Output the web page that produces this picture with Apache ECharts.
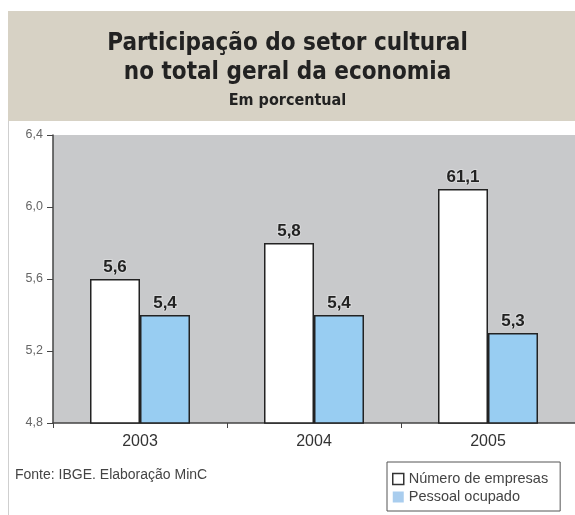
<!DOCTYPE html>
<html>
<head>
<meta charset="utf-8">
<script src="https://cdn.jsdelivr.net/npm/echarts@6/dist/echarts.min.js"></script>
<style>
  html, body { margin: 0; padding: 0; background: #ffffff; }
  #chart { width: 575px; height: 515px; }
</style>
</head>
<body>
<div id="chart"></div>
<script>
// Participação do setor cultural — dados em porcentual
const anos = ['2003', '2004', '2005'];
const numeroEmpresas = [5.6, 5.8, 6.1];
const pessoalOcupado = [5.4, 5.4, 5.3];
// Rótulos impressos sobre as barras
const rotulosEmpresas = ['5,6', '5,8', '61,1'];
const rotulosPessoal = ['5,4', '5,4', '5,3'];

const chart = echarts.init(document.getElementById('chart'), null, { renderer: 'canvas' });

const sans = 'Liberation Sans, Arial, sans-serif';
const tituloFonte = 'DejaVu Sans Condensed, DejaVu Sans, sans-serif';

const labelStyle = {
  show: true,
  position: 'top',
  distance: 3,
  fontFamily: sans,
  fontWeight: 'bold',
  fontSize: 17,
  color: '#222222',
  textBorderColor: 'rgba(255,255,255,0.3)',
  textBorderWidth: 2
};

chart.setOption({
  backgroundColor: '#ffffff',
  animation: false,
  graphic: [
    { type: 'rect', left: 8, top: 11, shape: { width: 567, height: 110 }, style: { fill: '#d7d2c5' }, z: -10 },
    { type: 'rect', left: 8, top: 121, shape: { width: 1, height: 394 }, style: { fill: '#cfcfcf' }, z: -10 },
    {
      type: 'text', x: 15, y: 475,
      style: { text: 'Fonte: IBGE. Elaboração MinC', fill: '#444444', font: '14px ' + sans, textVerticalAlign: 'middle' }
    }
  ],
  title: [
    {
      text: 'Participação do setor cultural\nno total geral da economia',
      left: 'center', top: 24,
      textStyle: { fontFamily: tituloFonte, fontWeight: 'bold', fontSize: 24, lineHeight: 29, color: '#222222' }
    },
    {
      text: 'Em porcentual',
      left: 'center', top: 88,
      textStyle: { fontFamily: tituloFonte, fontWeight: 'bold', fontSize: 16, color: '#222222' }
    }
  ],
  legend: {
    orient: 'vertical',
    left: 387, top: 462,
    padding: [9, 12, 6, 5],
    itemGap: 2,
    itemWidth: 11, itemHeight: 11,
    icon: 'rect',
    backgroundColor: '#ffffff',
    borderColor: '#555555', borderWidth: 1,
    textStyle: { fontFamily: sans, fontSize: 14.5, lineHeight: 16, color: '#444444' },
    data: [
      { name: 'Número de empresas', itemStyle: { color: '#ffffff', borderColor: '#333333', borderWidth: 1.5 } },
      { name: 'Pessoal ocupado', itemStyle: { color: '#a9cdee', borderWidth: 0 } }
    ]
  },
  grid: {
    left: 53, top: 135, right: -3, height: 288,
    show: true, backgroundColor: '#c8c9cb', borderWidth: 0
  },
  xAxis: {
    type: 'category',
    data: anos,
    axisLine: { lineStyle: { color: '#444444', width: 1.5 } },
    axisTick: { show: true, length: 5, lineStyle: { color: '#444444' } },
    axisLabel: { margin: 11, fontFamily: sans, fontSize: 16, color: '#333333' }
  },
  yAxis: {
    type: 'value',
    min: 4.8, max: 6.4, interval: 0.4,
    splitLine: { show: false },
    axisLine: { show: true, lineStyle: { color: '#444444', width: 1.5 } },
    axisTick: { show: true, length: 6, lineStyle: { color: '#444444' } },
    axisLabel: {
      margin: 10,
      fontFamily: sans, fontSize: 12.5, color: '#666666',
      formatter: v => v.toFixed(1).replace('.', ',')
    }
  },
  series: [
    {
      name: 'Número de empresas',
      type: 'bar',
      data: numeroEmpresas,
      barWidth: 50,
      barGap: '0%',
      itemStyle: { color: '#ffffff', borderColor: '#222222', borderWidth: 1.5 },
      label: Object.assign({}, labelStyle, { formatter: p => rotulosEmpresas[p.dataIndex] })
    },
    {
      name: 'Pessoal ocupado',
      type: 'bar',
      data: pessoalOcupado,
      barWidth: 50,
      barGap: '0%',
      itemStyle: { color: '#98cdf2', borderColor: '#222222', borderWidth: 1.5 },
      label: Object.assign({}, labelStyle, { formatter: p => rotulosPessoal[p.dataIndex] })
    }
  ]
});
</script>
</body>
</html>
